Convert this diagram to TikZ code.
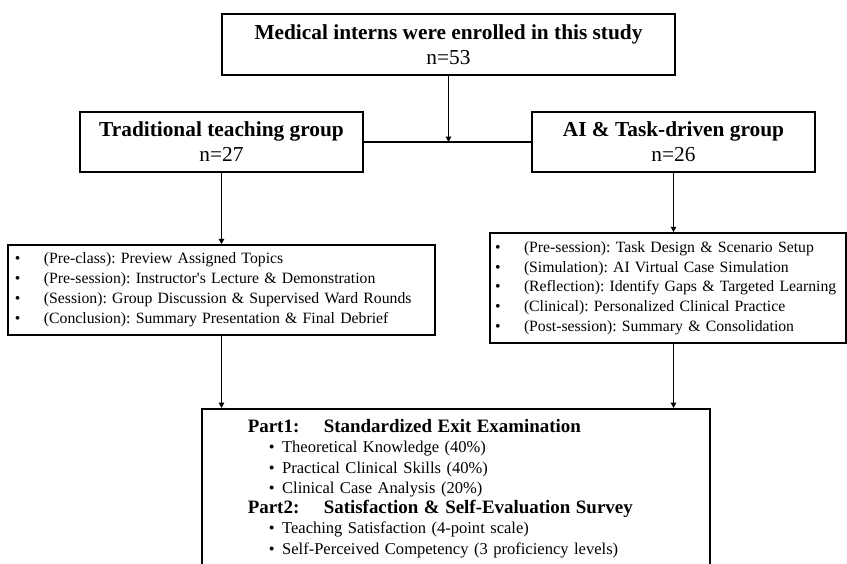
\documentclass[tikz,border=0pt]{standalone}
\usepackage{fontspec}
\setmainfont{Liberation Serif}[Ligatures=TeXOff]
\usetikzlibrary{arrows.meta, positioning, calc}
\frenchspacing
\tikzset{
  block/.style={rectangle, draw=black, line width=1.2pt, align=center,
                inner sep=0pt, font=\fontsize{16}{18.75}\selectfont},
  groupbox/.style={block, minimum width=212.25pt, minimum height=45pt},
  listbox/.style={rectangle, draw=black, line width=1.2pt, align=left,
                  font=\fontsize{11.8}{14.8}\selectfont},
  arrow/.style={-{Triangle[length=4pt, width=4pt]}, line width=1.2pt},
  plainline/.style={line width=1.2pt},
}
\newcommand{\litem}[1]{\mbox{\makebox[21.75pt][l]{\textbullet}#1}}
\newcommand{\eitem}[1]{\mbox{\hspace*{15.75pt}\makebox[10pt][l]{\textbullet}#1}}
\newcommand{\epart}[2]{{\fontsize{14.2}{15.2}\selectfont\bfseries\makebox[57pt][l]{#1}#2}}

\begin{document}
\begin{tikzpicture}[x=0.75pt, y=-0.75pt]
  \clip (0,0) rectangle (847,564);

  % enrolment and allocation
  \node[block, minimum width=339.75pt, minimum height=45.75pt] (enroll) at (448.5,44.5)
    {\textbf{Medical interns were enrolled in this study}\\n=53};
  \node[groupbox] (trad) at (221.5,142) {\textbf{Traditional teaching group}\\n=27};
  \node[groupbox] (ai)   at (673.5,142) {\textbf{AI \& Task-driven group}\\n=26};

  % teaching procedures
  \node[listbox, text width=309.75pt, inner xsep=5.25pt, minimum height=67.5pt] (tradlist) at (221.5,290) {%
    \litem{(Pre-class): Preview Assigned Topics}\\
    \litem{(Pre-session): Instructor's Lecture \& Demonstration}\\
    \litem{(Session): Group Discussion \& Supervised Ward Rounds}\\
    \litem{(Conclusion): Summary Presentation \& Final Debrief}\rule[-3pt]{0pt}{0pt}};
  \node[listbox, text width=259.5pt, inner xsep=3.75pt, minimum height=82.5pt] (ailist) at (668,288) {%
    \litem{(Pre-session): Task Design \& Scenario Setup}\\
    \litem{(Simulation): AI Virtual Case Simulation}\\
    \litem{(Reflection): Identify Gaps \& Targeted Learning}\\
    \litem{(Clinical): Personalized Clinical Practice}\\
    \litem{(Post-session): Summary \& Consolidation}};

  % outcome assessment
  \node[listbox, anchor=north west, text width=312pt, inner xsep=34.5pt, inner ysep=8pt,
        font=\fontsize{12.4}{15.2}\selectfont] (exam) at (201,408) {%
    \epart{Part1:}{Standardized Exit Examination}\\
    \eitem{Theoretical Knowledge (40\%)}\\
    \eitem{Practical Clinical Skills (40\%)}\\
    \eitem{Clinical Case Analysis (20\%)}\\
    \epart{Part2:}{Satisfaction \& Self-Evaluation Survey}\\
    \eitem{Teaching Satisfaction (4-point scale)}\\
    \eitem{Self-Perceived Competency (3 proficiency levels)}\\
    \rule{0pt}{30pt}};

  \coordinate (split) at (enroll.south |- trad.east);
  \draw[plainline] (trad.east) -- (ai.west);
  \draw[arrow] (enroll) -- (split);
  \draw[arrow] (trad) -- (tradlist);
  \draw[arrow] (ai.south) -- (ai.south |- ailist.north);
  \draw[arrow] (tradlist.south) -- (tradlist.south |- exam.north);
  \draw[arrow] (ai.south |- ailist.south) -- (ai.south |- exam.north);

\end{tikzpicture}
\end{document}
